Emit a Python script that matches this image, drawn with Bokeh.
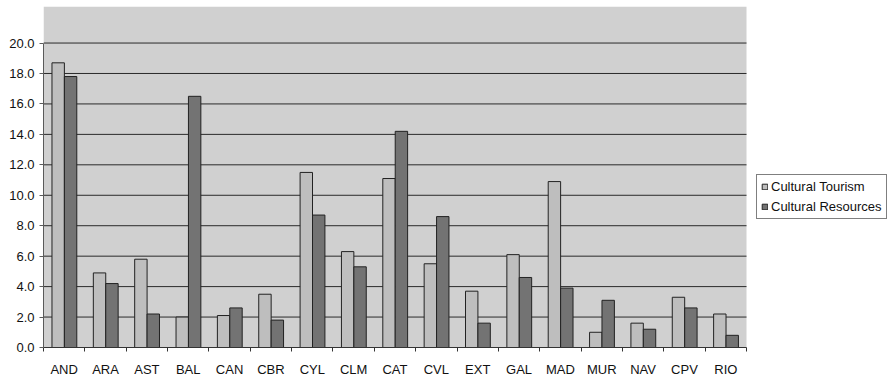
import numpy as np
from bokeh.plotting import figure
from bokeh.models import (ColumnDataSource, FixedTicker, Legend, LegendItem,
                          PrintfTickFormatter, Range1d)
from bokeh.embed import file_html
from bokeh.resources import INLINE

# Spanish regions and the two indicators per region
regions = ["AND", "ARA", "AST", "BAL", "CAN", "CBR", "CYL", "CLM", "CAT",
           "CVL", "EXT", "GAL", "MAD", "MUR", "NAV", "CPV", "RIO"]
cultural_tourism = [18.7, 4.9, 5.8, 2.0, 2.1, 3.5, 11.5, 6.3, 11.1,
                    5.5, 3.7, 6.1, 10.9, 1.0, 1.6, 3.3, 2.2]
cultural_resources = [17.8, 4.2, 2.2, 16.5, 2.6, 1.8, 8.7, 5.3, 14.2,
                      8.6, 1.6, 4.6, 3.9, 3.1, 1.2, 2.6, 0.8]
y_ticks = [0, 2, 4, 6, 8, 10, 12, 14, 16, 18, 20]

FONT = "Liberation Sans"
BAR_W = 0.3
Y_TOP = 22.4
N = len(regions)
# the frame runs to the right edge; the chart area covers [0, N] and the
# remaining room holds the legend
X_END = N * 845 / 703

idx = np.arange(N)
centers = idx + 0.5

src = ColumnDataSource(dict(
    region=regions,
    x_tour=centers - 0.145,
    x_res=centers + 0.155,
    tourism=cultural_tourism,
    resources=cultural_resources,
))

p = figure(width=888, height=379, output_backend="svg", toolbar_location=None,
           x_range=Range1d(0, X_END), y_range=Range1d(0, Y_TOP),
           min_border_left=43, min_border_right=0,
           min_border_top=6, min_border_bottom=27)
p.background_fill_color = "white"
p.border_fill_color = "white"
p.outline_line_color = None
p.xgrid.visible = False
p.ygrid.visible = False

# grey plot area and horizontal gridlines limited to the category span
p.quad(left=[0], right=[N], bottom=[0], top=[Y_TOP],
       fill_color="#D0D0D0", line_color=None)
grid_y = y_ticks[1:]
p.segment(x0=[0] * len(grid_y), x1=[N] * len(grid_y), y0=grid_y, y1=grid_y,
          line_color="#2a2a2a", line_width=1)

r_tour = p.vbar(x="x_tour", top="tourism", width=BAR_W, source=src,
                fill_color="#BEBEBE", line_color="#222222", line_width=1)
r_res = p.vbar(x="x_res", top="resources", width=BAR_W, source=src,
               fill_color="#737373", line_color="#222222", line_width=1)

# y axis: one-decimal labels every 2 units, line stops at the last tick
yax = p.yaxis[0]
yax.ticker = FixedTicker(ticks=y_ticks)
yax.formatter = PrintfTickFormatter(format="%.1f")
yax.bounds = (0, 20)
yax.major_tick_out = 4
yax.major_tick_in = 0
yax.minor_tick_out = 0
yax.minor_tick_in = 0
yax.major_label_standoff = 5
yax.axis_line_color = "#5a5a5a"
yax.major_tick_line_color = "#5a5a5a"
yax.major_label_text_font = FONT
yax.major_label_text_font_size = "13px"
yax.major_label_text_color = "#111111"

# x axis: labels at category centres, tick marks between categories
xax = p.xaxis[0]
xax.ticker = FixedTicker(ticks=list(centers),
                         minor_ticks=list(range(N + 1)))
xax.major_label_overrides = {float(c): r for c, r in zip(centers, regions)}
xax.bounds = (0, N)
xax.major_tick_out = 0
xax.major_tick_in = 0
xax.minor_tick_out = 4
xax.minor_tick_in = 0
xax.minor_tick_line_color = "#333333"
xax.axis_line_color = "#333333"
xax.major_label_standoff = 10
xax.major_label_text_font = FONT
xax.major_label_text_font_size = "13px"
xax.major_label_text_color = "#111111"

legend = Legend(items=[LegendItem(label="Cultural Tourism", renderers=[r_tour]),
                       LegendItem(label="Cultural Resources", renderers=[r_res])],
                location=(713, 128))
legend.border_line_color = "black"
legend.border_line_width = 1
legend.background_fill_color = "white"
legend.background_fill_alpha = 1
legend.glyph_width = 7
legend.glyph_height = 7
legend.label_standoff = 3
legend.padding = 4
legend.spacing = 5
legend.margin = 0
legend.label_text_font = FONT
legend.label_text_font_size = "13px"
legend.label_text_color = "#111111"
p.add_layout(legend)

open("out.html", "w").write(file_html(p, INLINE))
